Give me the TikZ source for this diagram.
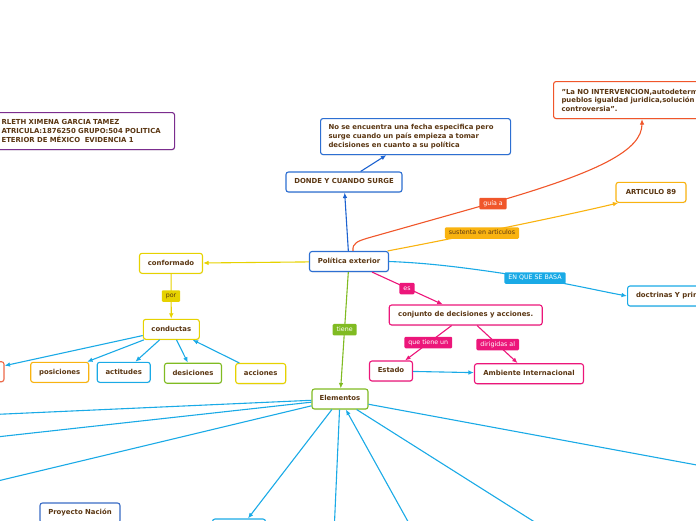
\documentclass[tikz,border=0pt]{standalone}
\usepackage{fontspec}
\setmainfont{DejaVu Sans}
\usetikzlibrary{arrows.meta,shadows}
\definecolor{txt}{HTML}{5A3612}
\definecolor{cpurple}{HTML}{7B2D8E}
\definecolor{cdblue}{HTML}{2D6FD2}
\definecolor{cdbline}{HTML}{1C62D0}
\definecolor{cred}{HTML}{F0562A}
\definecolor{corange}{HTML}{F9B310}
\definecolor{clblue}{HTML}{1AAAE6}
\definecolor{cyellow}{HTML}{E6D200}
\definecolor{cored}{HTML}{EF6B4A}
\definecolor{cgreen}{HTML}{80BB22}
\definecolor{cpink}{HTML}{EC167A}
\definecolor{cpblue}{HTML}{3A6CC5}
\begin{document}
\begin{tikzpicture}[x=1pt,y=-1pt,
  base/.style={draw=#1, fill=white, rounded corners=2.5pt, line width=1.1pt, text=txt,
    font=\fontsize{6.9}{8.6}\selectfont\bfseries,
    drop shadow={shadow xshift=0.4pt, shadow yshift=-1pt, opacity=0.15}},
  box/.style={base=#1, inner sep=0pt, minimum height=20pt, text height=5.1pt, text depth=1.4pt},
  mbox/.style={base=#1, inner xsep=8pt, inner ysep=0pt, align=left},
  lbl/.style={fill=#1, rounded corners=1.2pt, inner xsep=4pt, inner ysep=0pt, minimum height=11.5pt,
    text height=4.7pt, text depth=1.3pt, font=\fontsize{6.3}{7}\selectfont, text=white},
  conn/.style={draw=#1, line width=1.1pt, -{Latex[length=5.5pt,width=4.6pt]}},
  plain/.style={draw=#1, line width=1.1pt}]
\useasboundingbox (0,0) rectangle (696,520);
\clip (0,0) rectangle (696,520);

% nodes
\node[mbox=cpurple, text width=165pt, minimum height=37pt, anchor=north west] (title) at (-7,112)
  {RLETH XIMENA GARCIA TAMEZ\\ATRICULA:1876250 GRUPO:504 POLITICA\\ETERIOR DE MÉXICO\ \ EVIDENCIA 1};
\node[mbox=cdblue, text width=174pt, minimum height=36pt, anchor=north west] (nose) at (320,118)
  {No se encuentra una fecha especifica pero\\surge cuando un país empieza a tomar\\decisiones en cuanto a su política};
\node[mbox=cred, text width=260pt, minimum height=37pt, anchor=north west] (quote) at (553,81)
  {"La NO INTERVENCION,autodeterminación de los\\pueblos igualdad juridica,solución pacífica de\\controversia".};
\node[box=cdblue, minimum width=116pt] (donde) at (344,182) {DONDE Y CUANDO SURGE};
\node[box=cdblue, minimum width=79pt] (pe) at (349,261.5) {Política exterior};
\node[box=corange, minimum width=70pt] (art) at (651,192.3) {ARTICULO 89};
\node[box=clblue, anchor=west, inner xsep=8.5pt] (doct) at (627,296) {doctrinas Y principios};
\node[box=cyellow, minimum width=63pt] (conf) at (171,263.3) {conformado};
\node[box=cyellow, minimum width=56pt] (cond) at (171.3,329.3) {conductas};
\node[box=cored, minimum width=54pt] (lnode) at (-23,371.7) {};
\node[box=corange, minimum width=58pt] (posi) at (59.7,372.3) {posiciones};
\node[box=clblue, minimum width=53pt] (acti) at (123.7,372.3) {actitudes};
\node[box=cgreen, minimum width=57pt] (desi) at (193,373.2) {desiciones};
\node[box=cyellow, minimum width=50pt] (acci) at (260.7,373.5) {acciones};
\node[box=cpink, minimum width=153pt] (conj) at (465.7,315) {conjunto de decisiones y acciones.};
\node[box=cpink, minimum width=43pt] (estado) at (391,371) {Estado};
\node[box=cpink, minimum width=109pt] (amb) at (529,373.7) {Ambiente Internacional};
\node[box=cgreen, minimum width=56pt] (elem) at (340,399) {Elementos};
\node[box=cpblue, minimum width=80pt] (proy) at (80,513) {Proyecto Nación};
\node[box=clblue, minimum width=53pt] (bot) at (239,529) {};

% connectors
\draw[conn=cdbline] (pe) -- (donde);
\draw[conn=cdbline] (donde) -- (nose);
\draw[conn=cred] ([xshift=4pt]pe.north) .. controls (352,243) and (358,241) .. (368,238)
  -- (492,203) .. controls (600,172) and (642,150) .. ([xshift=89pt]quote.south west);
\draw[conn=corange] ([xshift=-1.5pt]pe.north east) .. controls (430,243) and (560,217) .. ([xshift=3pt]art.south west);
\draw[conn=clblue] (pe.east) .. controls (430,263) and (470,268) .. (535,278.3)
  .. controls (570,284) and (600,291) .. (doct.west);
\draw[conn=cyellow] (pe) -- (conf);
\draw[conn=cyellow] (conf) -- (cond);
\draw[conn=clblue] (cond) -- (lnode);
\draw[conn=clblue] (cond) -- (posi);
\draw[conn=clblue] (cond) -- (acti);
\draw[conn=clblue] (cond) -- (desi);
\draw[conn=clblue] (acci) -- (cond);
\draw[conn=cpink] (pe) -- (conj);
\draw[conn=cpink] (conj) -- (estado);
\draw[conn=cpink] (conj) -- (amb);
\draw[conn=clblue] (estado) -- (amb);
\draw[conn=cgreen] (pe) -- (elem);

\coordinate (e1) at (-40,416);
\coordinate (e2) at (-40,441);
\coordinate (e3) at (-40,490);
\coordinate (e4) at (333.5,545);
\coordinate (e5) at (421,545);
\coordinate (e6) at (571,545);
\coordinate (e7) at (740,473);
\draw[plain=clblue] (elem) -- (e1);
\draw[plain=clblue] (elem) -- (e2);
\draw[plain=clblue] (elem) -- (e3);
\draw[conn=clblue] (elem) -- ([xshift=9pt]bot.north);
\draw[plain=clblue] (elem) -- (e4);
\draw[conn=clblue] (e5) -- (elem);
\draw[plain=clblue] (elem) -- (e6);
\draw[plain=clblue] (elem) -- (e7);

% labels
\node[lbl=cred] (lguia) at (493,203.5) {guía a};
\node[lbl=corange, text=txt] (lsust) at (482,233) {sustenta en articulos};
\node[lbl=clblue] (lbasa) at (535,278) {EN QUE SE BASA};
\node[lbl=cyellow, text=txt] (lpor) at (171,296) {por};
\node[lbl=cpink] (les) at (407,288.5) {es};
\node[lbl=cpink] (lque) at (428.3,342.5) {que tiene un};
\node[lbl=cpink] (ldir) at (497.7,344.5) {dirigidas al};
\node[lbl=cgreen] (ltiene) at (344.7,329.7) {tiene};
\end{tikzpicture}
\end{document}
